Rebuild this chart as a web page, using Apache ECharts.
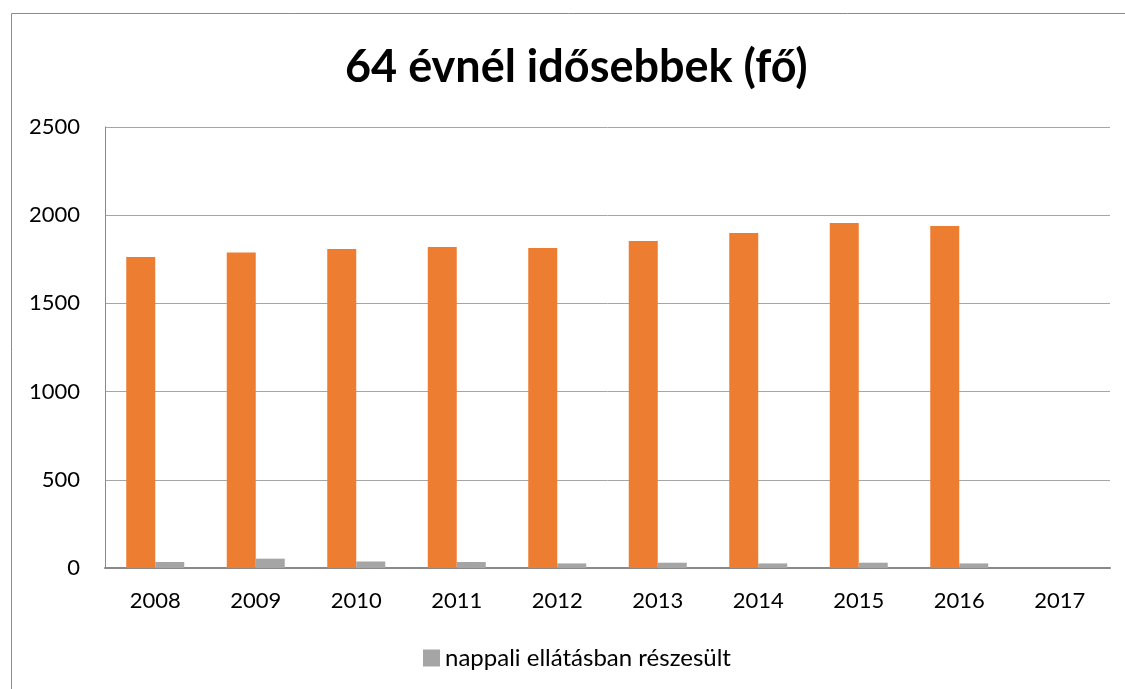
<!DOCTYPE html>
<html><head><meta charset="utf-8">
<script src="https://cdn.jsdelivr.net/npm/echarts@6/dist/echarts.min.js"></script>
<style>html,body{margin:0;padding:0;background:#fff}#c{width:1125px;height:689px}</style>
</head><body><div id="c"></div>
<script>
const categories = ['2008','2009','2010','2011','2012','2013','2014','2015','2016','2017'];
const totalValues = [1763, 1788, 1808, 1820, 1814, 1854, 1899, 1956, 1939, null];
const dayCareValues = [34, 53, 37, 34, 26, 30, 26, 30, 26, null];
const yTicks = [0, 500, 1000, 1500, 2000, 2500];
const titleText = '64 évnél idősebbek (fő)';
const totalName = '64 évnél idősebbek';
const dayCareName = 'nappali ellátásban részesült';

const font = 'Lato, "Open Sans", sans-serif';
const chart = echarts.init(document.getElementById('c'));
chart.setOption({
  animation: false,
  backgroundColor: '#fff',
  graphic: [{
    type: 'rect', shape: {x: 11.5, y: 13.5, width: 1200, height: 800},
    style: {fill: 'none', stroke: '#8c8c8c', lineWidth: 1}, silent: true, z: -1
  }],
  title: {
    text: titleText, left: 340, top: 40,
    textStyle: {fontFamily: font, fontSize: 45, fontWeight: 'bold', color: '#000'}
  },
  legend: {
    data: [dayCareName], bottom: 14, left: 418,
    itemWidth: 17, itemHeight: 17, itemGap: 5, icon: 'rect',
    textStyle: {fontFamily: font, fontSize: 24, color: '#000'}
  },
  grid: {left: 105, right: 15, top: 127, bottom: 121, containLabel: false},
  xAxis: {
    type: 'category', data: categories,
    axisLine: {lineStyle: {color: '#898989', width: 2}},
    axisTick: {show: false},
    axisLabel: {fontFamily: font, fontSize: 22, color: '#000', margin: 22}
  },
  yAxis: {
    type: 'value', min: yTicks[0], max: yTicks[yTicks.length - 1], interval: 500,
    axisLine: {show: true, lineStyle: {color: '#898989', width: 1}},
    axisTick: {show: false},
    axisLabel: {fontFamily: font, fontSize: 22, color: '#000', margin: 25,
      formatter: function (v) { return String(v); }},
    splitLine: {lineStyle: {color: '#a6a6a6', width: 1}}
  },
  series: [
    {name: totalName, type: 'bar', data: totalValues, barWidth: 29, barGap: '0%',
     itemStyle: {color: '#ED7D31'}},
    {name: dayCareName, type: 'bar', data: dayCareValues, barWidth: 29,
     itemStyle: {color: '#A5A5A5'}}
  ]
});
</script></body></html>
